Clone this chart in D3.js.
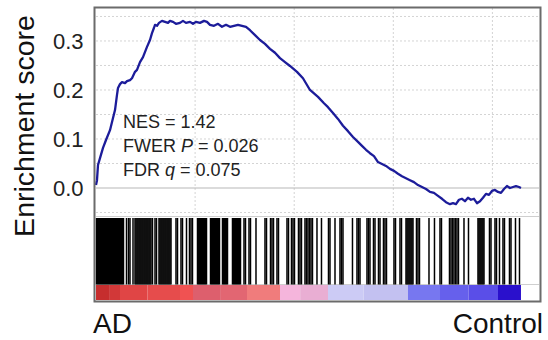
<!DOCTYPE html>
<html><head><meta charset="utf-8">
<script src="https://cdn.jsdelivr.net/npm/d3@7"></script>
<style>
html,body{margin:0;padding:0;background:#fff;}
svg{display:block;font-family:"Liberation Sans",Arial,sans-serif;}
</style></head>
<body><svg id="c" width="548" height="340"></svg>
<script>
// ---- data ----
const geneListSize = 22300;
const esRanks = [0,50,101,202,353,505,706,858,959,1059,1110,1211,1312,1463,1564,1715,1816,1968,2068,2220,2371,2573,2724,2825,2926,2977,3077,3178,3330,3481,3632,3733,3885,4036,4238,4389,4541,4742,4894,5045,5247,5449,5600,5751,5953,6155,6357,6559,6760,6962,7164,7366,7568,7769,8022,8274,8526,8778,9031,9283,9535,9787,10140,10443,10796,11200,11503,11704,11957,12209,12461,12713,12966,13218,13420,13622,13823,14025,14227,14429,14631,14832,15034,15236,15438,15640,15841,16043,16245,16447,16649,16850,17052,17254,17456,17658,17859,18011,18162,18313,18465,18616,18767,18919,19070,19221,19373,19524,19676,19827,19978,20130,20281,20432,20584,20735,20886,21038,21189,21340,21441];
const esValues = [0.006,0.016,0.047,0.061,0.082,0.098,0.118,0.143,0.159,0.190,0.204,0.212,0.216,0.214,0.218,0.220,0.224,0.237,0.241,0.257,0.267,0.288,0.302,0.316,0.327,0.333,0.331,0.337,0.341,0.339,0.337,0.341,0.339,0.335,0.337,0.341,0.337,0.339,0.335,0.339,0.337,0.341,0.339,0.333,0.331,0.335,0.329,0.333,0.329,0.331,0.333,0.331,0.329,0.322,0.312,0.302,0.294,0.284,0.276,0.265,0.257,0.249,0.237,0.224,0.200,0.186,0.173,0.165,0.153,0.141,0.127,0.116,0.104,0.094,0.086,0.078,0.071,0.065,0.053,0.049,0.045,0.039,0.035,0.029,0.024,0.020,0.016,0.012,0.006,0.002,-0.002,-0.008,-0.010,-0.016,-0.022,-0.029,-0.033,-0.031,-0.033,-0.024,-0.022,-0.027,-0.020,-0.024,-0.022,-0.031,-0.027,-0.020,-0.012,-0.014,-0.006,-0.004,-0.008,-0.010,-0.002,0.004,0.000,0.002,0.004,0.002,0.000];
const hitRanks = [25,76,126,177,227,278,328,378,429,479,530,580,631,681,732,782,833,883,933,984,1034,1085,1135,1186,1236,1286,1337,1387,
 1539,1640,1715,1867,
 1968,2018,2069,2119,2170,2220,2270,2321,2371,2422,2472,2523,2573,2623,2674,2724,2775,2850,2977,3052,
 3178,3228,3279,3329,3380,3430,3481,3531,3582,3632,3682,3733,3784,
 4036,4112,4288,4364,4566,4717,4793,4868,
 5121,5171,5222,5272,5322,5373,5423,5474,5524,5575,
 5777,5827,5877,5928,5978,6029,6079,6130,6180,6230,
 6382,6432,6483,6533,6584,6634,
 6886,6937,6987,7038,7088,7138,7189,7239,7290,
 7467,7542,7719,7794,8072,8526,8602,8804,8879,8955,9131,9207,
 9636,9712,9863,9939,10014,10216,10292,10367,10544,10619,10695,10771,10847,10922,
 11149,11376,11730,11805,12058,12310,12385,12461,12940,13167,13243,13319,
 13672,13748,13823,14000,14076,14252,14328,14504,14580,14656,
 15034,15110,15337,15413,15640,15690,15740,15791,15841,15892,15942,15993,
 16169,16245,16321,16800,17077,17355,17430,
 17834,17910,17985,18061,18137,18212,18288,18566,18793,
 19272,19322,19373,19423,19474,19524,19575,19852,19928,20130,20205,20357,20533,20609,20861,20937,21164,21366];
const metricBandStarts = [0,700,1211,2600,4238,4894,6300,7618,9283,10300,11704,13500,15740,17355,18800,20281];
const metricBandEnds   = [700,1211,2600,4238,4894,6300,7618,9283,10300,11704,13500,15740,17355,18800,20281,21441];
const metricBandColors = ["#c62e2e","#d23838","#e04545","#e64c4c","#f05252","#dd5f6d","#e26672","#f07c7c","#f5b5dc","#e9aed3","#cccbf5","#c3c1f1","#7777f0","#6660ec","#5a4ee8","#2a10cc"];
const yTickValues = [0.0,0.1,0.2,0.3];
const yGridValues = [-0.05,0.05,0.1,0.15,0.2,0.25,0.3,0.35];
const xGridValues = [5000,10000,15000,20000];
const statLines = [["NES = 1.42",""],["FWER ","P"," = 0.026"],["FDR ","q"," = 0.075"]];
const yLabel = "Enrichment score";
const leftLabel = "AD", rightLabel = "Control";

// ---- drawing ----
const svg = d3.select("#c");
const x = d3.scaleLinear().domain([0, geneListSize]).range([96, 538]);
const y = d3.scaleLinear().domain([-0.0551, 0.3673]).range([215, 8]);

const panelTop = 8, panelBottom = 215, barTop = 218, barBottom = 284.5, cbTop = 285, cbBottom = 300;

// grid
svg.append("g").selectAll("line").data(yGridValues).join("line")
  .attr("x1",96).attr("x2",539).attr("y1",d=>y(d)).attr("y2",d=>y(d))
  .attr("stroke","#d4d4d4").attr("stroke-width",1).attr("stroke-dasharray","2,2");
svg.append("g").selectAll("line").data(xGridValues).join("line")
  .attr("x1",d=>x(d)).attr("x2",d=>x(d)).attr("y1",panelTop).attr("y2",panelBottom)
  .attr("stroke","#d4d4d4").attr("stroke-width",1).attr("stroke-dasharray","2,2");
// zero line
svg.append("line").attr("x1",96).attr("x2",539).attr("y1",y(0)).attr("y2",y(0))
  .attr("stroke","#b8b8b8").attr("stroke-width",1.2);
// separators
svg.append("line").attr("x1",96).attr("x2",539).attr("y1",216.5).attr("y2",216.5).attr("stroke","#cfcfcf");
svg.append("line").attr("x1",96).attr("x2",539).attr("y1",284.5).attr("y2",284.5).attr("stroke","#cfcfcf");

// hits
svg.append("g").selectAll("line").data(hitRanks).join("line")
  .attr("x1",d=>x(d)).attr("x2",d=>x(d)).attr("y1",barTop).attr("y2",barBottom)
  .attr("stroke","#000").attr("stroke-width",1.5);

// ranked metric colour bar
svg.append("g").selectAll("rect").data(metricBandStarts).join("rect")
  .attr("x",(d)=>x(d)).attr("width",(d,i)=>x(metricBandEnds[i])-x(d))
  .attr("y",cbTop).attr("height",cbBottom-cbTop)
  .attr("fill",(d,i)=>metricBandColors[i]);

// ES curve
const line = d3.line().x((d,i)=>x(esRanks[i])).y(d=>y(d));
svg.append("path").datum(esValues).attr("d",line)
  .attr("fill","none").attr("stroke","#1c1c9a").attr("stroke-width",2.3).attr("stroke-linejoin","round");

// frame
svg.append("rect").attr("x",94.5).attr("y",7.5).attr("width",446).attr("height",294)
  .attr("fill","none").attr("stroke","#6b6b6b").attr("stroke-width",2);

// y axis labels
const ax = svg.append("g").attr("transform","translate(83.5,0)")
  .call(d3.axisLeft(y).tickValues(yTickValues).tickFormat(d3.format(".1f")).tickSize(0).tickPadding(0));
ax.select(".domain").remove();
ax.selectAll("text").attr("font-size",22).attr("fill","#222").attr("font-family","Liberation Sans, Arial, sans-serif");

// y label
svg.append("text").attr("transform","translate(34,126) rotate(-90)")
  .attr("text-anchor","middle").attr("font-size",28.5).attr("fill","#111").text(yLabel);

// stats
const st = svg.append("g").attr("font-size",18).attr("fill","#222");
statLines.forEach((parts,i)=>{
  const t = st.append("text").attr("x",123).attr("y",128+i*24);
  parts.forEach((p,j)=>{ if(p) t.append("tspan").attr("font-style", j===1?"italic":"normal").text(p); });
});

// bottom labels
svg.append("text").attr("x",93).attr("y",333).attr("font-size",28).attr("fill","#111").text(leftLabel);
svg.append("text").attr("x",543).attr("y",333).attr("text-anchor","end").attr("font-size",28).attr("fill","#111").text(rightLabel);
</script></body></html>
